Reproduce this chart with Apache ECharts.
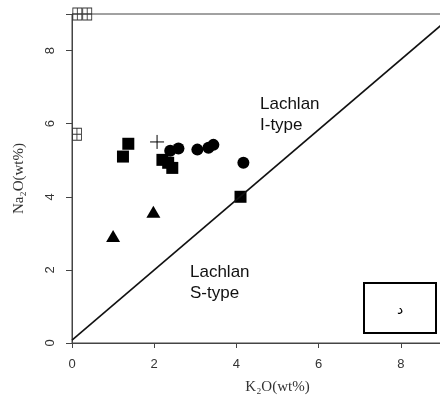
<!DOCTYPE html>
<html>
<head>
<meta charset="utf-8">
<script src="https://cdn.jsdelivr.net/npm/echarts@6/dist/echarts.min.js"></script>
<style>
  html, body { margin: 0; padding: 0; background: #fff; }
  #chart { width: 440px; height: 396px; }
</style>
</head>
<body>
<div id="chart"></div>
<script>
// K2O vs Na2O (wt%) discrimination plot, Lachlan I-type / S-type
const xTicks = [0, 2, 4, 6, 8, 10];
const yTicks = [0, 2, 4, 6, 8];

const squares = [[1.37, 5.45], [1.24, 5.10], [2.20, 5.01], [2.34, 4.93], [2.44, 4.79], [4.10, 4.00]];
const circles = [[2.39, 5.26], [2.59, 5.32], [3.05, 5.29], [3.32, 5.34], [3.44, 5.42], [4.17, 4.93]];
const triangles = [[1.00, 2.93], [1.98, 3.59]];
const crosses = [[2.07, 5.50]];
const openSquares = [[0.13, 9.00], [0.37, 9.00], [0.12, 5.71]];

// I-type / S-type boundary
const boundaryLine = [[0, 0.08], [9.3, 9.0]];

const chart = echarts.init(document.getElementById('chart'), null, { renderer: 'canvas' });

const gridSquare = 'path://M0,0H10V12H0Z M5,0V12 M0,6H10';

const tickFont = { fontFamily: 'Liberation Sans, Arial, sans-serif', fontSize: 13, color: '#333' };
const titleFont = { fontFamily: 'Liberation Serif, Times New Roman, serif', fontSize: 15, color: '#333' };
const solid = { color: '#000', opacity: 1 };

chart.setOption({
  animation: false,
  backgroundColor: '#fff',
  grid: {
    left: 72, top: 14, width: 411, height: 329,
    outerBoundsMode: 'none', containLabel: false,
    show: true, borderColor: '#444', borderWidth: 1, backgroundColor: 'transparent'
  },
  xAxis: {
    type: 'value', min: 0, max: 10, interval: 2,
    name: 'K₂O(wt%)', nameLocation: 'middle', nameGap: 37,
    nameTextStyle: titleFont,
    axisLine: { show: true, lineStyle: { color: '#444', width: 1 } },
    axisTick: { show: true, length: 5, lineStyle: { color: '#444' } },
    axisLabel: Object.assign({ margin: 15, formatter: v => xTicks.includes(v) ? String(v) : '' }, tickFont),
    splitLine: { show: false }
  },
  yAxis: {
    type: 'value', min: 0, max: 9, interval: 2,
    name: 'Na₂O(wt%)', nameLocation: 'middle', nameGap: 45, nameRotate: 90,
    nameTextStyle: titleFont,
    axisLine: { show: true, lineStyle: { color: '#444', width: 1 } },
    axisTick: { show: true, length: 6, lineStyle: { color: '#444' } },
    axisLabel: Object.assign({ margin: 15, rotate: 90, formatter: v => yTicks.includes(v) ? String(v) : '' }, tickFont),
    splitLine: { show: false }
  },
  series: [
    {
      type: 'line', data: boundaryLine, symbol: 'none', clip: true,
      lineStyle: { color: '#111', width: 1.6 }, silent: true
    },
    {
      type: 'scatter', data: squares, symbol: 'rect', symbolSize: 12,
      itemStyle: solid
    },
    {
      type: 'scatter', data: circles, symbol: 'circle', symbolSize: 12,
      itemStyle: solid
    },
    {
      type: 'scatter', data: triangles, symbol: 'triangle', symbolSize: [14, 12],
      itemStyle: solid
    },
    {
      type: 'scatter', data: crosses, symbol: 'path://M5,0V10 M0,5H10', symbolSize: 14,
      itemStyle: { color: 'none', borderColor: '#000', borderWidth: 1, opacity: 1 }
    },
    {
      type: 'scatter', data: openSquares, symbol: gridSquare, symbolSize: [9, 12], clip: true,
      itemStyle: { color: 'none', borderColor: '#333', borderWidth: 1, opacity: 1 }
    }
  ],
  graphic: [
    { type: 'text', left: 260, top: 94,
      style: { text: 'Lachlan\nI-type', font: '17px "Liberation Sans", Arial, sans-serif', fill: '#111', lineHeight: 21 } },
    { type: 'text', left: 190, top: 262,
      style: { text: 'Lachlan\nS-type', font: '17px "Liberation Sans", Arial, sans-serif', fill: '#111', lineHeight: 21 } },
    { type: 'rect', shape: { x: 364, y: 283, width: 72, height: 50 },
      style: { fill: '#fff', stroke: '#000', lineWidth: 2 } },
    { type: 'text', x: 400, y: 310,
      style: { text: 'د', font: '14px "DejaVu Sans", sans-serif', fill: '#000', align: 'center', verticalAlign: 'middle' } }
  ]
});
</script>
</body>
</html>
